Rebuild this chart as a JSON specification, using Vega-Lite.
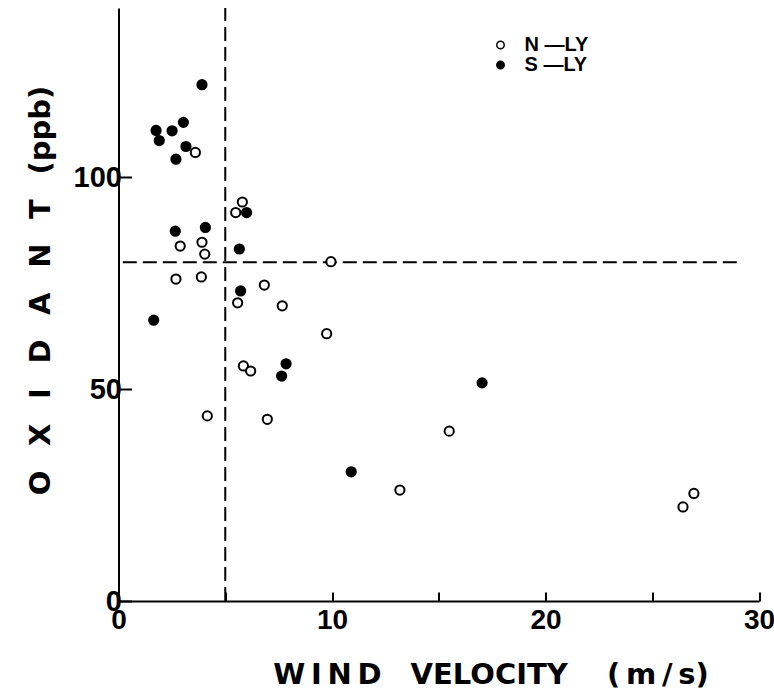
{
  "$schema": "https://vega.github.io/schema/vega-lite/v6.json",
  "width": 640.5,
  "height": 593,
  "autosize": {"type": "none"},
  "padding": {"left": 118.5, "top": 8, "right": 15, "bottom": 89},
  "background": "white",
  "config": {"view": {"stroke": null}},
  "layer": [
    {
      "data": {"values": [{"wind": 5, "ox": 0, "ox2": 140}]},
      "mark": {"type": "rule", "strokeDash": [14, 6], "strokeWidth": 2, "color": "black"},
      "encoding": {
        "x": {"field": "wind", "type": "quantitative"},
        "y": {"field": "ox", "type": "quantitative"},
        "y2": {"field": "ox2"}
      }
    },
    {
      "data": {"values": [{"wind": 0.2, "wind2": 29, "ox": 80}]},
      "mark": {"type": "rule", "strokeDash": [14, 6], "strokeWidth": 2, "color": "black"},
      "encoding": {
        "x": {"field": "wind", "type": "quantitative"},
        "x2": {"field": "wind2"},
        "y": {"field": "ox", "type": "quantitative"}
      }
    },
    {
      "data": {"values": [
        {"wind": 3.91, "ox": 121.9, "dir": "S —LY"},
        {"wind": 1.76, "ox": 111.1, "dir": "S —LY"},
        {"wind": 1.91, "ox": 108.7, "dir": "S —LY"},
        {"wind": 2.51, "ox": 111.0, "dir": "S —LY"},
        {"wind": 3.04, "ox": 113.0, "dir": "S —LY"},
        {"wind": 3.16, "ox": 107.3, "dir": "S —LY"},
        {"wind": 2.69, "ox": 104.3, "dir": "S —LY"},
        {"wind": 6.00, "ox": 91.7, "dir": "S —LY"},
        {"wind": 2.66, "ox": 87.3, "dir": "S —LY"},
        {"wind": 4.07, "ox": 88.2, "dir": "S —LY"},
        {"wind": 5.66, "ox": 83.1, "dir": "S —LY"},
        {"wind": 5.72, "ox": 73.2, "dir": "S —LY"},
        {"wind": 7.85, "ox": 56.0, "dir": "S —LY"},
        {"wind": 7.64, "ox": 53.1, "dir": "S —LY"},
        {"wind": 17.03, "ox": 51.5, "dir": "S —LY"},
        {"wind": 10.90, "ox": 30.5, "dir": "S —LY"},
        {"wind": 1.65, "ox": 66.3, "dir": "S —LY"},
        {"wind": 3.60, "ox": 105.9, "dir": "N —LY"},
        {"wind": 5.80, "ox": 94.2, "dir": "N —LY"},
        {"wind": 5.49, "ox": 91.7, "dir": "N —LY"},
        {"wind": 2.89, "ox": 83.8, "dir": "N —LY"},
        {"wind": 3.91, "ox": 84.7, "dir": "N —LY"},
        {"wind": 4.04, "ox": 81.9, "dir": "N —LY"},
        {"wind": 2.69, "ox": 76.0, "dir": "N —LY"},
        {"wind": 3.88, "ox": 76.5, "dir": "N —LY"},
        {"wind": 6.83, "ox": 74.6, "dir": "N —LY"},
        {"wind": 5.58, "ox": 70.4, "dir": "N —LY"},
        {"wind": 7.67, "ox": 69.7, "dir": "N —LY"},
        {"wind": 9.95, "ox": 80.1, "dir": "N —LY"},
        {"wind": 9.75, "ox": 63.1, "dir": "N —LY"},
        {"wind": 5.85, "ox": 55.5, "dir": "N —LY"},
        {"wind": 6.19, "ox": 54.3, "dir": "N —LY"},
        {"wind": 4.16, "ox": 43.7, "dir": "N —LY"},
        {"wind": 6.97, "ox": 42.9, "dir": "N —LY"},
        {"wind": 15.49, "ox": 40.1, "dir": "N —LY"},
        {"wind": 13.18, "ox": 26.2, "dir": "N —LY"},
        {"wind": 26.95, "ox": 25.4, "dir": "N —LY"},
        {"wind": 26.44, "ox": 22.2, "dir": "N —LY"}
      ]},
      "mark": {"type": "point", "filled": true, "shape": "circle", "size": 85, "stroke": "black", "strokeWidth": 2, "opacity": 1},
      "encoding": {
        "x": {
          "field": "wind", "type": "quantitative",
          "scale": {"domain": [0, 30], "nice": false, "zero": false},
          "axis": {
            "values": [0, 5, 10, 15, 20, 25, 30],
            "labelExpr": "datum.value % 10 == 0 ? datum.label : ''",
            "grid": false,
            "domainColor": "black", "domainWidth": 2,
            "tickColor": "black", "tickWidth": 2, "tickSize": -9,
            "labelFont": "Liberation Sans",
            "labelFontWeight": "bold", "labelFontSize": 28, "labelColor": "black",
            "labelPadding": 14, "labelFlush": false, "labelOverlap": false,
            "title": "W\u2009I\u2009N\u2009D\u2003VELOCITY\u2003\u00a0(\u2009m\u2009/\u2009s)",
            "titleFont": "DejaVu Sans", "titleFontWeight": "bold", "titleFontSize": 29, "titleColor": "black",
            "titleX": 372, "titleY": 82, "titleAlign": "center", "titleBaseline": "alphabetic"
          }
        },
        "y": {
          "field": "ox", "type": "quantitative",
          "scale": {"domain": [0, 140], "nice": false, "zero": false},
          "axis": {
            "values": [0, 50, 100],
            "grid": false,
            "domainColor": "black", "domainWidth": 2,
            "tickColor": "black", "tickWidth": 2, "tickSize": -13,
            "labelFont": "Liberation Sans",
            "labelFontWeight": "bold", "labelFontSize": 29, "labelColor": "black",
            "labelPadding": 10, "labelFlush": false, "labelOverlap": false,
            "title": "O\u2002\u00a0X\u2002\u00a0I\u2002\u00a0D\u2002\u00a0A\u2002\u00a0N\u2002\u00a0T\u2002\u00a0(ppb)",
            "titleFont": "DejaVu Sans", "titleFontWeight": "bold", "titleFontSize": 29, "titleColor": "black",
            "titleAngle": 270, "titleX": -69, "titleY": 282, "titleAlign": "center", "titleBaseline": "alphabetic"
          }
        },
        "fill": {
          "field": "dir", "type": "nominal",
          "scale": {"domain": ["N —LY", "S —LY"], "range": ["white", "black"]},
          "legend": {
            "title": null, "orient": "none", "legendX": 372, "legendY": 27,
            "symbolType": "circle", "symbolSize": 55, "symbolStrokeColor": "black", "symbolStrokeWidth": 1.5, "symbolOpacity": 1,
            "labelFont": "Liberation Sans", "labelFontWeight": "bold", "labelFontSize": 20, "labelColor": "black",
            "labelOffset": 14, "rowPadding": 0
          }
        }
      }
    }
  ]
}
